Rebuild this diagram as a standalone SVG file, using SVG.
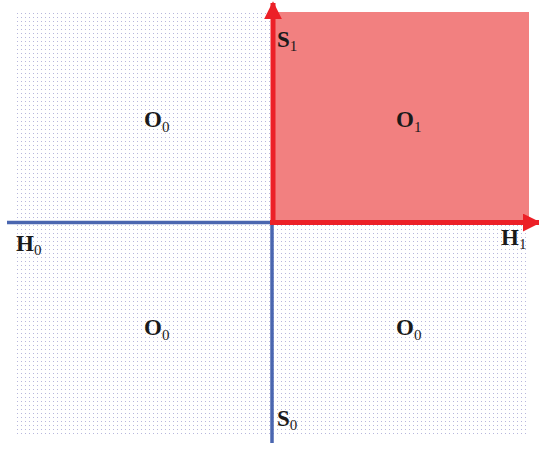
<svg xmlns="http://www.w3.org/2000/svg" width="539" height="452" viewBox="0 0 539 452">
<defs>
<pattern id="dots" x="16" y="12" width="4" height="4" patternUnits="userSpaceOnUse">
<rect x="1" y="1" width="1" height="1" fill="#7c7cc0"/>
</pattern>
<marker id="redArrow" viewBox="0 0 10 10" refX="9" refY="5" markerWidth="3.6" markerHeight="3.6" markerUnits="strokeWidth" orient="auto">
<path d="M0,0 L10,5 L0,10 z" fill="#ec2027"/>
</marker>
<style>
.lbl{font-family:"Liberation Serif","Times New Roman",serif;font-weight:bold;font-size:23px;fill:#1a1a1a}
.sub{font-weight:normal;font-size:15px;fill:#1a1a1a}
.red{stroke:#ec2027;stroke-width:5;fill:none}
.blue{stroke:#4a66b0;stroke-width:3.5;fill:none}
</style>
</defs>
<rect width="539" height="452" fill="#ffffff"/>
<rect id="dotted" x="16" y="12" width="513" height="422" fill="url(#dots)" opacity="0.55"/>
<g id="region-O1"><rect x="273" y="12" width="256" height="210" fill="#f28080"/></g>
<g id="connectors">
<line class="blue" x1="7" y1="222.5" x2="272" y2="222.5"/>
<line class="blue" x1="272" y1="222" x2="272" y2="443"/>
<line class="red" x1="273" y1="225" x2="273" y2="3" marker-end="url(#redArrow)"/>
<line class="red" x1="270" y1="222.5" x2="539" y2="222.5" marker-end="url(#redArrow)"/>
</g>
<g id="label-O0-tl"><text class="lbl" x="144" y="127">O<tspan class="sub" dy="5">0</tspan></text></g>
<g id="label-O1"><text class="lbl" x="396" y="127">O<tspan class="sub" dy="5">1</tspan></text></g>
<g id="label-O0-bl"><text class="lbl" x="144" y="335">O<tspan class="sub" dy="5">0</tspan></text></g>
<g id="label-O0-br"><text class="lbl" x="396" y="335">O<tspan class="sub" dy="5">0</tspan></text></g>
<g id="label-S1"><text class="lbl" x="277" y="47">S<tspan class="sub" dy="4">1</tspan></text></g>
<g id="label-S0"><text class="lbl" x="277" y="426">S<tspan class="sub" dy="4">0</tspan></text></g>
<g id="label-H1"><text class="lbl" x="501" y="245">H<tspan class="sub" dy="4">1</tspan></text></g>
<g id="label-H0"><text class="lbl" x="16" y="251">H<tspan class="sub" dy="4">0</tspan></text></g>
</svg>
